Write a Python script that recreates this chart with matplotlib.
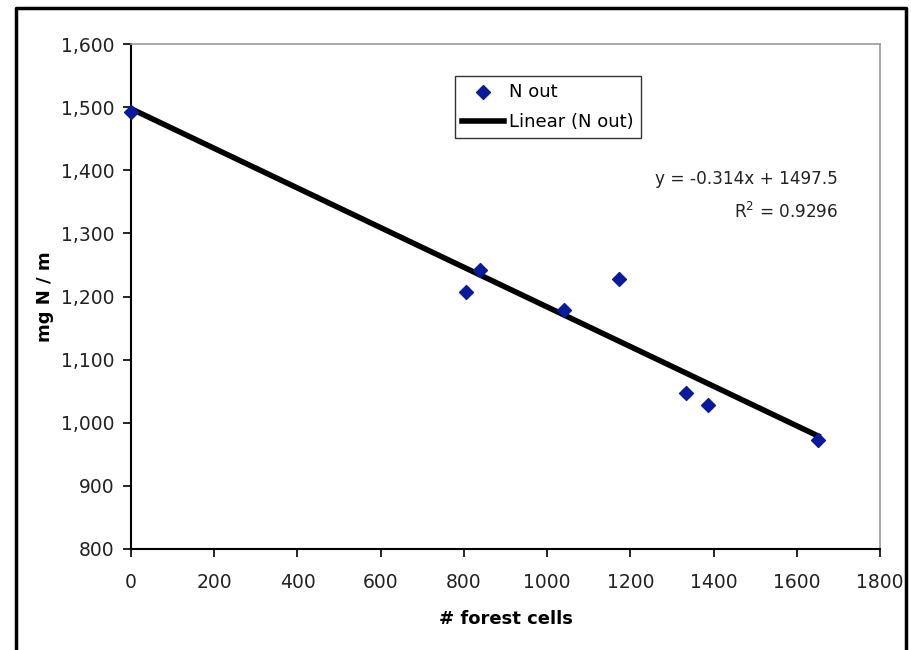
import matplotlib
matplotlib.use("Agg")
import matplotlib.pyplot as plt
from matplotlib.lines import Line2D
from matplotlib.ticker import FuncFormatter
import numpy as np

# data
forest_cells = [0, 805, 839, 1041, 1173, 1334, 1387, 1651]
n_out = [1492, 1207, 1242, 1179, 1228, 1047, 1028, 973]
slope = -0.314
intercept = 1497.5
r2 = 0.9296

plt.rcParams['font.family'] = ['DejaVu Sans']

fig = plt.figure(figsize=(9.11, 6.5), dpi=100)
ax = fig.add_axes([131 / 911, 1 - 549 / 650, 749 / 911, 505 / 650])

# outer frame (left, top, right)
fig.add_artist(Line2D([16 / 911, 16 / 911, 906 / 911, 906 / 911],
                      [0, 1 - 8 / 650, 1 - 8 / 650, 0],
                      transform=fig.transFigure, color='black', lw=2.5))

# trendline
xs = np.array([min(forest_cells), max(forest_cells)])
ax.plot(xs, slope * xs + intercept, color='black', lw=4, label='Linear (N out)',
        zorder=2)
ax.scatter(forest_cells, n_out, marker='D', s=50, color='#0a1a9c',
           label='N out', zorder=3, clip_on=False)

ax.set_xlim(0, 1800)
ax.set_ylim(800, 1600)
ax.set_xticks(range(0, 1801, 200))
ax.set_yticks(range(800, 1601, 100))
ax.yaxis.set_major_formatter(FuncFormatter(lambda v, p: f'{int(v):,}'))
ax.tick_params(direction='out', length=6, width=1.2, labelsize=13.5, pad=6,
               colors='black', labelcolor='#222222')
ax.tick_params(axis='x', pad=11)

for side in ['top', 'right']:
    ax.spines[side].set_color('#999999')
    ax.spines[side].set_linewidth(1.2)
for side in ['left', 'bottom']:
    ax.spines[side].set_color('black')
    ax.spines[side].set_linewidth(1.5)

ax.set_xlabel('# forest cells', fontsize=13, fontweight='bold', labelpad=13)
ax.set_ylabel('mg N / m', fontsize=13, fontweight='bold', labelpad=5)

handles, labels = ax.get_legend_handles_labels()
leg = ax.legend(handles[::-1], labels[::-1], loc='upper left',
                bbox_to_anchor=((455 - 131) / 749, 1 - (76 - 44) / 505),
                fontsize=13, frameon=True, fancybox=False, edgecolor='black',
                handlelength=2.3, handletextpad=0.3, borderpad=0.4,
                labelspacing=0.65, borderaxespad=0)
leg.get_frame().set_linewidth(1.0)

ax.text(0.944, 0.699, f'y = {slope}x + {intercept}\nR$^2$ = {r2}',
        transform=ax.transAxes, ha='right', va='center', fontsize=12.2,
        color='#222222', linespacing=1.85, multialignment='right')

fig.savefig('out.png', dpi=100)
